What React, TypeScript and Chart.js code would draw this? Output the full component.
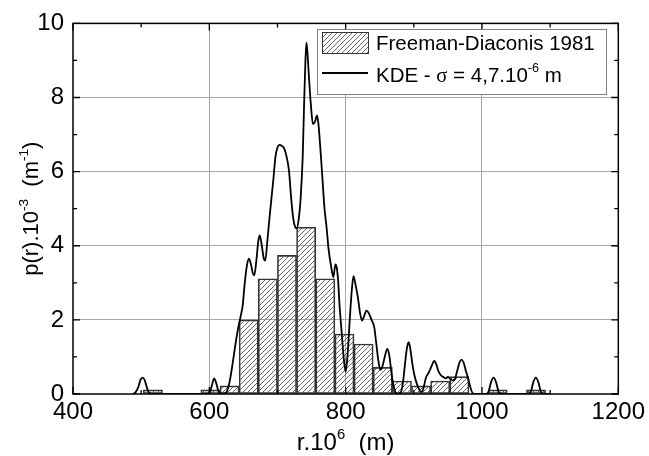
import React, { useEffect, useRef } from 'react';
import { Chart, registerables } from 'chart.js';

Chart.register(...registerables);

// Histogram (Freeman-Diaconis bins): bin centres (r.10^6 m) and densities (p.10^-3 m^-1)
const binCenters = [517.25, 545.35, 573.45, 601.55, 629.65, 657.75, 685.85, 713.95, 742.05, 770.15, 798.25, 826.35, 854.45, 882.55, 910.65, 938.75, 966.85, 994.95, 1023.05, 1051.15, 1079.25];
const binHeights = [0.11, 0, 0, 0.11, 0.22, 2.0, 3.11, 3.74, 4.5, 3.11, 1.62, 1.35, 0.72, 0.35, 0.22, 0.35, 0.47, 0, 0.11, 0, 0.11];

// KDE curve
const kdeR = [488, 492, 496, 499, 502, 505, 508, 511, 515, 598, 601, 604, 607, 610, 613, 617, 622, 626, 630, 634, 638, 642, 646, 649, 652, 655, 658, 661, 664, 666, 669, 672, 674, 677, 680, 682, 685, 688, 691, 694, 697, 700, 703, 706, 710, 714, 717, 720, 723, 726, 728, 731, 734, 737, 739, 741, 742.5, 744, 746, 749, 752, 755, 758, 760, 763, 766, 769, 772, 775, 779, 782, 785, 787, 789, 791, 794, 797, 800, 803, 806, 809, 811.5, 814, 818, 821, 824, 827, 830.5, 834, 838, 842, 845, 848, 851, 854, 858, 861, 864, 867, 870, 873, 876, 881, 884, 887, 890, 892.5, 895, 898, 901, 904, 908, 911, 914, 918, 922, 926, 930, 933, 936, 940, 944, 947, 950, 953, 957, 960, 964, 967, 970, 973, 976, 980, 984, 987, 1006, 1010, 1013, 1017, 1021, 1024, 1028, 1068, 1072, 1075, 1079, 1083, 1086, 1090, 1100];
const kdeP = [0, 0.05, 0.2, 0.38, 0.44, 0.38, 0.2, 0.05, 0, 0, 0.05, 0.25, 0.42, 0.3, 0.1, 0.01, 0.01, 0.08, 0.35, 0.8, 1.3, 1.75, 2.1, 2.4, 3.0, 3.45, 3.65, 3.5, 3.25, 3.2, 3.6, 4.15, 4.28, 4.0, 3.65, 3.6, 4.1, 4.7, 5.25, 5.8, 6.4, 6.65, 6.72, 6.7, 6.62, 6.35, 6.0, 5.3, 4.75, 4.5, 4.47, 4.7, 5.3, 6.4, 7.8, 9.0, 9.48, 9.2, 8.6, 7.8, 7.28, 7.35, 7.52, 7.3, 6.6, 5.8, 5.0, 4.5, 3.9, 3.4, 3.15, 3.5, 3.4, 3.05, 2.4, 1.7, 1.0, 0.6, 1.1, 2.0, 2.8, 3.18, 3.0, 2.6, 2.2, 1.98, 2.1, 2.25, 2.18, 2.0, 1.8, 1.35, 0.9, 0.65, 0.75, 1.05, 1.22, 1.05, 0.6, 0.25, 0.05, 0, 0.05, 0.3, 0.8, 1.25, 1.4, 1.2, 0.8, 0.5, 0.3, 0.12, 0.05, 0.15, 0.45, 0.58, 0.75, 0.89, 0.8, 0.62, 0.5, 0.45, 0.42, 0.46, 0.42, 0.37, 0.4, 0.65, 0.85, 0.93, 0.85, 0.65, 0.4, 0.12, 0.01, 0, 0.08, 0.3, 0.44, 0.3, 0.08, 0, 0, 0.08, 0.3, 0.44, 0.3, 0.08, 0, 0];

const xMajor = [400, 600, 800, 1000, 1200];
const xMinor = [500, 700, 900, 1100];
const yMajor = [0, 2, 4, 6, 8, 10];
const yMinor = [1, 3, 5, 7, 9];

const histLabel = 'Freeman-Diaconis 1981';
const kdeLabelParts = [
  { t: 'KDE - ', f: 'sans' },
  { t: 'σ', f: 'serif' },
  { t: ' = 4,7.10', f: 'sans' },
  { t: '-6', f: 'sans', sup: true },
  { t: ' m', f: 'sans' },
];
const xTitleParts = [{ t: 'r.10', f: 'sans' }, { t: '6', f: 'sans', sup: true }, { t: '  (m)', f: 'sans' }];
const yTitleParts = [
  { t: 'p(r).10', f: 'sans' },
  { t: '-3', f: 'sans', sup: true },
  { t: '  (m', f: 'sans' },
  { t: '-1', f: 'sans', sup: true },
  { t: ')', f: 'sans' },
];

const SANS = '"Liberation Sans", Arial, sans-serif';
const SERIF = '"Liberation Serif", "DejaVu Serif", serif';

function makeHatch(): CanvasPattern | string {
  const s = 5;
  const c = document.createElement('canvas');
  c.width = s;
  c.height = s;
  const g = c.getContext('2d');
  if (!g) return '#ccc';
  g.strokeStyle = '#555';
  g.lineWidth = 0.9;
  g.beginPath();
  g.moveTo(-1, s + 1);
  g.lineTo(s + 1, -1);
  g.moveTo(-1, 1);
  g.lineTo(1, -1);
  g.moveTo(s - 1, s + 1);
  g.lineTo(s + 1, s - 1);
  g.stroke();
  return g.createPattern(c, 'repeat') || '#ccc';
}

type Part = { t: string; f: string; sup?: boolean };

function richWidth(ctx: CanvasRenderingContext2D, parts: Part[], size: number) {
  let w = 0;
  for (const p of parts) {
    const sz = p.sup ? size * 0.62 : size;
    ctx.font = `${sz}px ${p.f === 'serif' ? SERIF : SANS}`;
    w += ctx.measureText(p.t).width;
  }
  return w;
}

function drawRich(ctx: CanvasRenderingContext2D, parts: Part[], x: number, y: number, size: number) {
  let cx = x;
  ctx.textBaseline = 'alphabetic';
  ctx.textAlign = 'left';
  for (const p of parts) {
    const sz = p.sup ? size * 0.62 : size;
    ctx.font = `${sz}px ${p.f === 'serif' ? SERIF : SANS}`;
    ctx.fillText(p.t, cx, p.sup ? y - size * 0.45 : y);
    cx += ctx.measureText(p.t).width;
  }
}

export default function App() {
  const ref = useRef<HTMLCanvasElement | null>(null);

  useEffect(() => {
    const canvas = ref.current;
    if (!canvas) return;
    const hatch = makeHatch();

    const overlay = {
      id: 'overlay',
      afterDraw(chart: any) {
        const ctx: CanvasRenderingContext2D = chart.ctx;
        const a = chart.chartArea;
        const xs = chart.scales.x;
        const ys = chart.scales.y;
        ctx.save();
        // frame
        ctx.strokeStyle = '#000';
        ctx.lineWidth = 1.5;
        ctx.strokeRect(a.left, a.top, a.right - a.left, a.bottom - a.top);
        // inward ticks on all four sides
        ctx.lineWidth = 1.3;
        ctx.beginPath();
        const xt = (vals: number[], len: number) => {
          for (const v of vals) {
            const px = xs.getPixelForValue(v);
            ctx.moveTo(px, a.bottom);
            ctx.lineTo(px, a.bottom - len);
            ctx.moveTo(px, a.top);
            ctx.lineTo(px, a.top + len);
          }
        };
        const yt = (vals: number[], len: number) => {
          for (const v of vals) {
            const py = ys.getPixelForValue(v);
            ctx.moveTo(a.left, py);
            ctx.lineTo(a.left + len, py);
            ctx.moveTo(a.right, py);
            ctx.lineTo(a.right - len, py);
          }
        };
        xt(xMajor, 7);
        xt(xMinor, 4);
        yt(yMajor, 7);
        yt(yMinor, 4);
        ctx.stroke();

        // legend
        const lx = 317, ly = 29, lw = 289, lh = 65;
        ctx.fillStyle = '#fff';
        ctx.fillRect(lx, ly, lw, lh);
        ctx.strokeStyle = '#808080';
        ctx.lineWidth = 1;
        ctx.strokeRect(lx + 0.5, ly + 0.5, lw, lh);
        // swatch
        ctx.fillStyle = hatch as any;
        ctx.fillRect(322, 32, 46, 21);
        ctx.strokeStyle = '#333';
        ctx.strokeRect(322.5, 32.5, 46, 21);
        // line sample
        ctx.strokeStyle = '#000';
        ctx.lineWidth = 1.8;
        ctx.beginPath();
        ctx.moveTo(322, 73);
        ctx.lineTo(368, 73);
        ctx.stroke();
        ctx.fillStyle = '#000';
        drawRich(ctx, [{ t: histLabel, f: 'sans' }], 376, 50, 20.5);
        drawRich(ctx, kdeLabelParts, 376, 81.5, 20.5);

        // axis titles
        const xsz = 24;
        const xw = richWidth(ctx, xTitleParts, xsz);
        drawRich(ctx, xTitleParts, (a.left + a.right) / 2 - xw / 2, 450, xsz);
        const ysz = 22;
        const yw = richWidth(ctx, yTitleParts, ysz);
        ctx.translate(38, (a.top + a.bottom) / 2);
        ctx.rotate(-Math.PI / 2);
        drawRich(ctx, yTitleParts, -yw / 2, 0, ysz);
        ctx.restore();
      },
    };

    const chart = new Chart(canvas, {
      type: 'bar',
      data: {
        datasets: [
          {
            type: 'line',
            label: 'KDE',
            data: kdeR.map((r, i) => ({ x: r, y: kdeP[i] })),
            borderColor: '#000',
            borderWidth: 1.8,
            pointRadius: 0,
            cubicInterpolationMode: 'monotone',
            fill: false,
            order: 0,
          } as any,
          {
            type: 'bar',
            label: histLabel,
            data: binCenters.map((c, i) => ({ x: c, y: binHeights[i] })),
            backgroundColor: hatch as any,
            borderColor: '#333',
            borderWidth: (c: any) => (c.raw && c.raw.y > 0 ? 1 : 0),
            borderSkipped: false,
            barPercentage: 1,
            categoryPercentage: 1,
            order: 1,
          } as any,
        ],
      },
      options: {
        responsive: false,
        animation: false,
        devicePixelRatio: 1,
        layout: { padding: { top: 20, right: 30, left: 0, bottom: 0 } },
        plugins: { legend: { display: false }, tooltip: { enabled: false } },
        scales: {
          x: {
            type: 'linear',
            min: 400,
            max: 1200,
            offset: false,
            afterFit: (s: any) => {
              s.height = 62;
            },
            afterBuildTicks: (s: any) => {
              s.ticks = xMajor.map((v) => ({ value: v }));
            },
            ticks: {
              color: '#000',
              font: { family: SANS, size: 24 },
              padding: 4,
              maxRotation: 0,
              autoSkip: false,
              callback: (v: any) => String(v),
            },
            grid: {
              offset: false,
              drawTicks: false,
              lineWidth: 1,
              color: (c: any) => (c.tick && (c.tick.value === 400 || c.tick.value === 1200) ? 'rgba(0,0,0,0)' : '#a8a8a8'),
            },
            border: { display: false },
          },
          y: {
            type: 'linear',
            min: 0,
            max: 10,
            afterFit: (s: any) => {
              s.width = 73;
            },
            afterBuildTicks: (s: any) => {
              s.ticks = yMajor.map((v) => ({ value: v }));
            },
            ticks: {
              color: '#000',
              font: { family: SANS, size: 24 },
              padding: 9,
              callback: (v: any) => String(v),
            },
            grid: {
              drawTicks: false,
              lineWidth: 1,
              color: (c: any) => (c.tick && (c.tick.value === 0 || c.tick.value === 10) ? 'rgba(0,0,0,0)' : '#a8a8a8'),
            },
            border: { display: false },
          },
        },
      },
      plugins: [overlay],
    } as any);

    return () => chart.destroy();
  }, []);

  return (
    <div style={{ position: 'absolute', left: 0, top: 0, width: 649, height: 456, background: '#fff' }}>
      <canvas ref={ref} width={649} height={456} style={{ display: 'block' }} />
    </div>
  );
}
